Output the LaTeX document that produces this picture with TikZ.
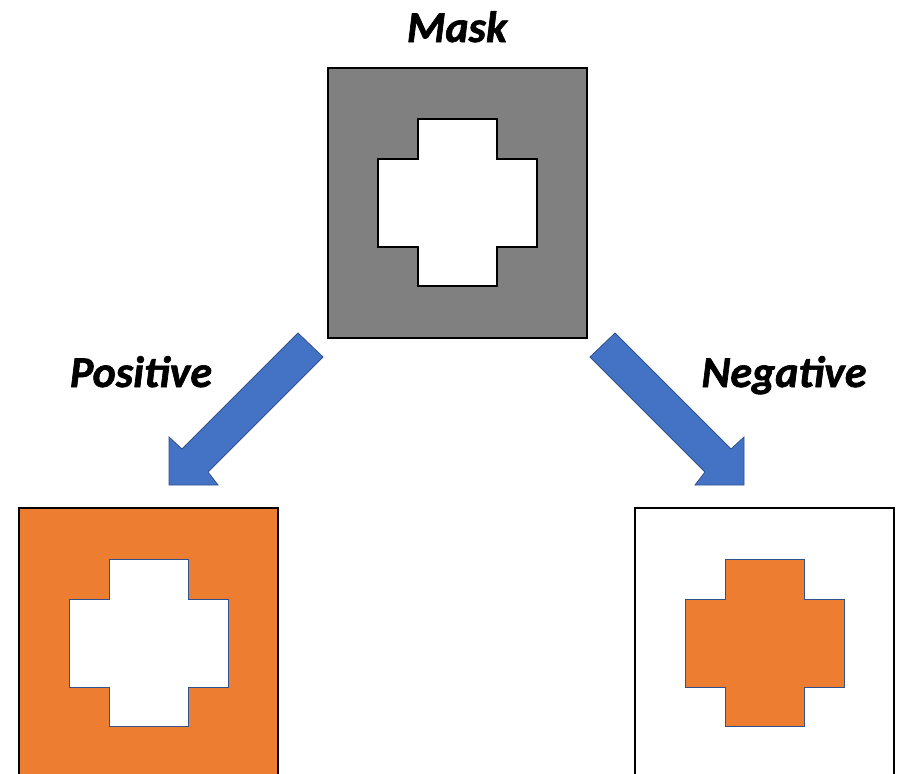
\documentclass[tikz,border=0pt]{standalone}
\usepackage{fontspec}
\setmainfont{Carlito}[BoldItalicFeatures={FakeBold=1.5}]
\definecolor{maskgray}{HTML}{808080}
\definecolor{orng}{HTML}{ED7D31}
\definecolor{arrowblue}{HTML}{4472C4}
\definecolor{arrowedge}{HTML}{2F528F}
\begin{document}
\begin{tikzpicture}[x=1pt,y=-1pt,
  lbl/.style={font=\fontsize{44}{50}\selectfont\bfseries\itshape, anchor=base, inner sep=0pt},
  panel/.style={draw=black, line width=2pt, anchor=north west, minimum width=259pt, minimum height=270pt, inner sep=0pt, outer sep=0pt},
  blockarrow/.style={fill=arrowblue, draw=arrowedge, line width=0.8pt, line join=miter},
  pics/crossshape/.style={code={
    \draw[#1] (90,51) -- (169,51) -- (169,91) -- (209,91) -- (209,179) -- (169,179) -- (169,218)
      -- (90,218) -- (90,179) -- (50,179) -- (50,91) -- (90,91) -- cycle;}}
]
\useasboundingbox (0,0) rectangle (898,774);
\clip (0,0) rectangle (898,774);
\fill[white] (0,0) rectangle (898,774);

% panels
\node[panel, fill=maskgray, line width=2.5pt] (mask) at (328,68) {};
\node[panel, fill=orng] (pos) at (19,508) {};
\node[panel, fill=white] (neg) at (635,508) {};

% crosses
\pic at (328,68) {crossshape={fill=white, draw=black, line width=1.5pt}};
\pic at (19,508) {crossshape={fill=white, draw=arrowedge, line width=1pt}};
\pic at (635,508) {crossshape={fill=orng, draw=arrowedge, line width=1pt}};

% block arrows
\coordinate (pa1) at (298,333);
\coordinate (pa2) at (323,357);
\coordinate (pa3) at (208,472);
\coordinate (pa4) at (218,485);
\coordinate (ptip) at (169,485);
\coordinate (pa6) at (169,437);
\coordinate (pa7) at (182,449);
\draw[blockarrow] (pa1) -- (pa2) -- (pa3) -- (pa4) -- (ptip) -- (pa6) -- (pa7) -- cycle;

\coordinate (na1) at (615,333);
\coordinate (na2) at (590,357);
\coordinate (na3) at (705,472);
\coordinate (na4) at (695,485);
\coordinate (ntip) at (744,485);
\coordinate (na6) at (744,437);
\coordinate (na7) at (731,449);
\draw[blockarrow] (na1) -- (na2) -- (na3) -- (na4) -- (ntip) -- (na6) -- (na7) -- cycle;

% labels
\node[lbl] (masklbl) at (457,42) {Mask};
\node[lbl] (poslbl) at (141,387) {Positive};
\node[lbl] (neglbl) at (784,387) {Negative};
\end{tikzpicture}
\end{document}
